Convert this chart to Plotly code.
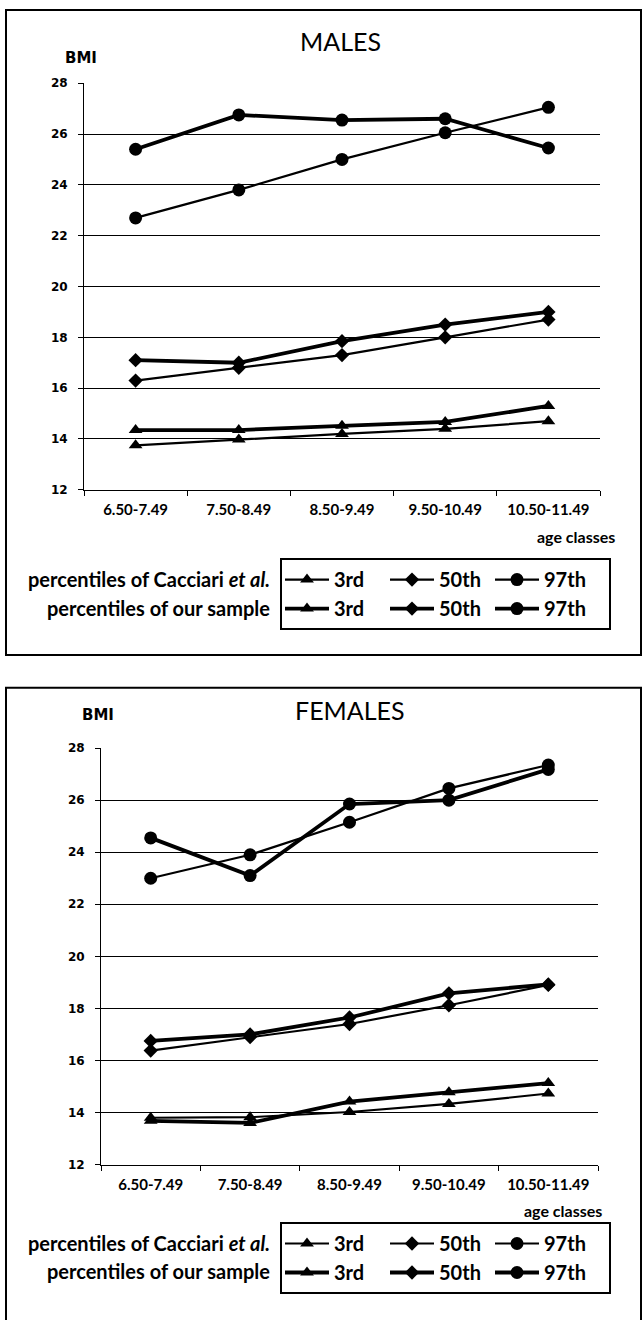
import plotly.graph_objects as go

W, H = 644, 1320

age_classes = ["6.50-7.49", "7.50-8.49", "8.50-9.49", "9.50-10.49", "10.50-11.49"]
bmi_ticks = [12, 14, 16, 18, 20, 22, 24, 26, 28]

males_cacciari_3rd = [13.75, 13.98, 14.2, 14.4, 14.7]
males_sample_3rd = [14.35, 14.35, 14.52, 14.67, 15.3]
males_cacciari_50th = [16.3, 16.8, 17.3, 18.0, 18.7]
males_sample_50th = [17.1, 17.0, 17.85, 18.5, 19.0]
males_cacciari_97th = [22.7, 23.8, 25.0, 26.05, 27.05]
males_sample_97th = [25.4, 26.75, 26.55, 26.6, 25.45]

females_cacciari_3rd = [13.8, 13.82, 14.02, 14.33, 14.73]
females_sample_3rd = [13.68, 13.6, 14.42, 14.78, 15.13]
females_cacciari_50th = [16.38, 16.9, 17.4, 18.12, 18.9]
females_sample_50th = [16.75, 17.0, 17.65, 18.58, 18.92]
females_cacciari_97th = [23.0, 23.9, 25.15, 26.45, 27.35]
females_sample_97th = [24.55, 23.1, 25.85, 26.0, 27.18]

percentile_names = ["3rd", "50th", "97th"]
symbols = ["triangle-up", "diamond", "circle"]
marker_sizes = [12, 11, 13]
legend_widths = [46, 46, 60]

FONT = "Lato"
TICKFONT = "DejaVu Sans"


def X(px):
    return px / W


def Y(py):
    return 1 - py / H


fig = go.Figure()

panels = [
    dict(xa="x", ya="y", legend="legend", grp="m",
         cacc=[males_cacciari_3rd, males_cacciari_50th, males_cacciari_97th],
         samp=[males_sample_3rd, males_sample_50th, males_sample_97th]),
    dict(xa="x2", ya="y2", legend="legend2", grp="f",
         cacc=[females_cacciari_3rd, females_cacciari_50th, females_cacciari_97th],
         samp=[females_sample_3rd, females_sample_50th, females_sample_97th]),
]

for p in panels:
    for i, name in enumerate(percentile_names):
        for kind, vals, lw in (("cacc", p["cacc"][i], 2.2), ("samp", p["samp"][i], 3.8)):
            fig.add_trace(go.Scatter(
                x=age_classes, y=vals, xaxis=p["xa"], yaxis=p["ya"],
                mode="lines+markers", name=name,
                legend=p["legend"], legendgroup=p["grp"] + name,
                legendwidth=legend_widths[i],
                line=dict(color="black", width=lw),
                marker=dict(symbol=symbols[i], size=marker_sizes[i], color="black"),
                showlegend=True, hoverinfo="skip",
            ))

tickfont = dict(family=TICKFONT, size=12, color="black", weight="bold")
xtickfont = dict(family=FONT, size=15, color="black", weight="bold")


def yaxis(dom, anchor):
    return dict(domain=dom, anchor=anchor, range=[12, 28], tickvals=bmi_ticks,
                showgrid=True, gridcolor="black", gridwidth=1, showline=True,
                linecolor="black", linewidth=1, ticks="outside", ticklen=5,
                tickcolor="black", tickfont=tickfont, zeroline=False,
                fixedrange=True, ticklabelstandoff=8)


def xaxis(dom, anchor):
    return dict(domain=dom, anchor=anchor, type="category", range=[-0.5, 4.5],
                showline=True, linecolor="black", linewidth=1, ticks="outside",
                tickson="boundaries", ticklen=5, tickcolor="black",
                tickfont=xtickfont, showgrid=False, fixedrange=True,
                ticklabelstandoff=6)


legend_common = dict(orientation="h", traceorder="grouped", bgcolor="white",
                     bordercolor="black", borderwidth=2, itemwidth=44,
                     xanchor="left", yanchor="top", itemclick=False,
                     itemdoubleclick=False,
                     font=dict(family=FONT, size=20, color="black", weight="bold"))

fig.update_layout(
    width=W, height=H, margin=dict(l=0, r=0, t=0, b=0),
    paper_bgcolor="white", plot_bgcolor="white",
    showlegend=True,
    xaxis=xaxis([X(84), X(600)], "y"),
    yaxis=yaxis([Y(488), Y(77)], "x"),
    xaxis2=xaxis([X(101), X(598)], "y2"),
    yaxis2=yaxis([Y(1170), Y(749)], "x2"),
    legend=dict(legend_common, x=X(280), y=Y(557)),
    legend2=dict(legend_common, x=X(280), y=Y(1228)),
)

lab = dict(family=FONT, size=20, color="black", weight="bold")
bmi = dict(family=TICKFONT, size=15, color="black", weight="bold")
ttl = dict(family=FONT, size=25, color="black")
ac = dict(family=FONT, size=16, color="black", weight="bold")
ann = [
    dict(text="MALES", x=X(340), y=Y(34), font=ttl),
    dict(text="BMI", x=X(63), y=Y(52), xanchor="left", font=bmi),
    dict(text="age classes", x=X(617), y=Y(535), xanchor="right", font=ac),
    dict(text="percentiles of Cacciari <i>et al.</i>", x=X(272), y=Y(578), xanchor="right", font=lab),
    dict(text="percentiles of our sample", x=X(272), y=Y(607), xanchor="right", font=lab),
    dict(text="FEMALES", x=X(350), y=Y(711), font=ttl),
    dict(text="BMI", x=X(80), y=Y(716), xanchor="left", font=bmi),
    dict(text="age classes", x=X(604), y=Y(1216), xanchor="right", font=ac),
    dict(text="percentiles of Cacciari <i>et al.</i>", x=X(272), y=Y(1249), xanchor="right", font=lab),
    dict(text="percentiles of our sample", x=X(272), y=Y(1278), xanchor="right", font=lab),
]
for a in ann:
    a.update(xref="paper", yref="paper", showarrow=False, yanchor="middle")
fig.update_layout(annotations=ann)

fig.update_layout(shapes=[
    dict(type="rect", xref="paper", yref="paper", x0=X(6), x1=X(641), y0=Y(3), y1=Y(655),
         line=dict(color="black", width=2), layer="below"),
    dict(type="rect", xref="paper", yref="paper", x0=X(6), x1=X(641), y0=Y(688), y1=Y(1345),
         line=dict(color="black", width=2), layer="below"),
])

fig.write_html("out.html", config={"displayModeBar": False},
               post_script="document.body.style.margin='0';")
